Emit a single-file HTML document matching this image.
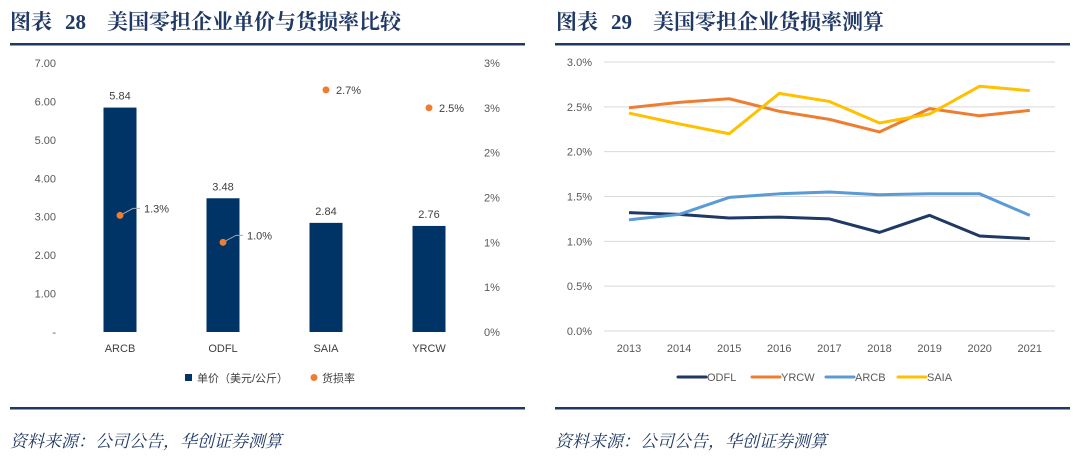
<!DOCTYPE html>
<html><head><meta charset="utf-8"><style>
body{margin:0;width:1080px;height:463px;background:#fff;overflow:hidden;font-family:"Liberation Sans","Noto Sans CJK SC",sans-serif}
svg{position:absolute;left:0;top:0}
</style></head><body>
<svg width="1080" height="463">
<g id="frame"></g>
<g id="left"></g>
<g id="right"></g>
</svg>
<script>
const barCats=["ARCB","ODFL","SAIA","YRCW"];
const barVals=[5.84,3.48,2.84,2.76];
const lossVals=[1.3,1.0,2.7,2.5];
const leftTicks=["-","1.00","2.00","3.00","4.00","5.00","6.00","7.00"];
const rightTicks=["0%","1%","1%","2%","2%","3%","3%"];
const years=["2013","2014","2015","2016","2017","2018","2019","2020","2021"];
const odfl=[1.32,1.30,1.26,1.27,1.25,1.10,1.29,1.06,1.03];
const yrcw=[2.49,2.55,2.59,2.45,2.36,2.22,2.48,2.40,2.46];
const arcb=[1.24,1.30,1.49,1.53,1.55,1.52,1.53,1.53,1.29];
const saia=[2.43,2.31,2.20,2.65,2.56,2.32,2.42,2.73,2.68];
const pctTicks=["0.0%","0.5%","1.0%","1.5%","2.0%","2.5%","3.0%"];
const NS="http://www.w3.org/2000/svg";
function mk(p,t,a,txt){const e=document.createElementNS(NS,t);for(const k in a)e.setAttribute(k,a[k]);if(txt!=null)e.textContent=txt;p.appendChild(e);return e;}
const F=document.getElementById('frame'),L=document.getElementById('left'),R=document.getElementById('right');
const blue="#1f3864";
const serif='"Liberation Serif","Noto Serif CJK SC",serif';
let e;
[[10,'图表','28','美国零担企业单价与货损率比较','left'],[556,'图表','29','美国零担企业货损率测算','right']].forEach(([x,a,n,t,s])=>{
 e=mk(F,'text',{x:x,y:29,'font-size':21,'font-weight':'bold',fill:blue,'font-family':serif},a);
 
 e=mk(F,'text',{x:x+55,y:29,'font-size':21,'font-weight':'bold',fill:blue,'font-family':serif},n);
 
 e=mk(F,'text',{x:x+97,y:29,'font-size':21,'font-weight':'bold',fill:blue,'font-family':serif},t);
 
});
[[10,525],[555,1070]].forEach(([a,b],i)=>{
 e=mk(F,'rect',{x:a,y:43,width:b-a,height:2.5,fill:blue});
 e=mk(F,'rect',{x:a,y:407,width:b-a,height:2.5,fill:blue});
 e=mk(F,'text',{x:a,y:447,'font-size':17,'font-style':'italic',fill:blue,'font-family':serif},'资料来源：公司公告，华创证券测算');
 
});
// left chart
const ly0=332,ly1=63;
const yL=v=>ly0-(v/7)*(ly0-ly1);
const yR=v=>ly0-(v/3)*(ly0-ly1);
const xB=i=>120+i*103;
const barColor="#003366";
leftTicks.forEach((t,i)=>{e=mk(L,'text',{x:56,y:yL(i)+4,'font-size':11,fill:'#595959','text-anchor':'end'},t);});
rightTicks.forEach((t,i)=>{e=mk(L,'text',{x:484,y:yR(i*0.5)+4,'font-size':11,fill:'#595959'},t);});
barCats.forEach((c,i)=>{
 e=mk(L,'rect',{x:xB(i)-16.5,y:yL(barVals[i]),width:33,height:ly0-yL(barVals[i]),fill:barColor});
 
 e=mk(L,'text',{x:xB(i),y:yL(barVals[i])-8,'font-size':11,fill:'#404040','text-anchor':'middle'},barVals[i].toFixed(2));
 
 e=mk(L,'text',{x:xB(i),y:ly0+20,'font-size':11,fill:'#404040','text-anchor':'middle'},c);
 
 const cy=yR(lossVals[i]);
 const inside=cy>yL(barVals[i]);
 if(inside){
  e=mk(L,'polyline',{points:`${xB(i)},${cy} ${xB(i)+13},${cy-7} ${xB(i)+20},${cy-7}`,fill:'none',stroke:'#a6a6a6','stroke-width':1});
  
 }
 e=mk(L,'circle',{cx:xB(i),cy:cy,r:3.5,fill:'#ed7d31'});
 
 e=mk(L,'text',{x:xB(i)+(inside?24:10),y:cy+(inside?-3:4),'font-size':11,fill:'#404040'},lossVals[i].toFixed(1)+'%');
 
});
e=mk(L,'rect',{x:185,y:374,width:7,height:7,fill:barColor});
e=mk(L,'text',{x:197,y:382,'font-size':11,fill:'#404040'},'单价（美元/公斤）');
e=mk(L,'circle',{cx:314,cy:377.5,r:3.5,fill:'#ed7d31'});
e=mk(L,'text',{x:322,y:382,'font-size':11,fill:'#404040'},'货损率');
// right chart
const ry0=331,ry1=62,rx0=629,rstep=50.1;
const yP=v=>ry0-(v/3)*(ry0-ry1);
const xY=i=>rx0+i*rstep;
pctTicks.forEach((t,i)=>{
 e=mk(R,'line',{x1:604,x2:1055,y1:yP(i*0.5),y2:yP(i*0.5),stroke:'#d9d9d9','stroke-width':1});
 e=mk(R,'text',{x:592,y:yP(i*0.5)+4,'font-size':11,fill:'#595959','text-anchor':'end'},t);
});
years.forEach((y,i)=>{e=mk(R,'text',{x:xY(i),y:352,'font-size':11,fill:'#595959','text-anchor':'middle'},y);});
const series=[["ODFL",odfl,"#1f3864"],["YRCW",yrcw,"#ed7d31"],["ARCB",arcb,"#5b9bd5"],["SAIA",saia,"#ffc000"]];
const lx=[678,752,826,898];
series.forEach(([n,d,c],k)=>{
 e=mk(R,'polyline',{points:d.map((v,i)=>xY(i)+','+yP(v)).join(' '),fill:'none',stroke:c,'stroke-width':3,'stroke-linejoin':'round'});
 
 e=mk(R,'line',{x1:lx[k],x2:lx[k]+28,y1:377,y2:377,stroke:c,'stroke-width':3,'stroke-linecap':'round'});
 
 e=mk(R,'text',{x:lx[k]+29,y:381,'font-size':11,fill:'#595959'},n);
 
});
</script>
</body></html>
